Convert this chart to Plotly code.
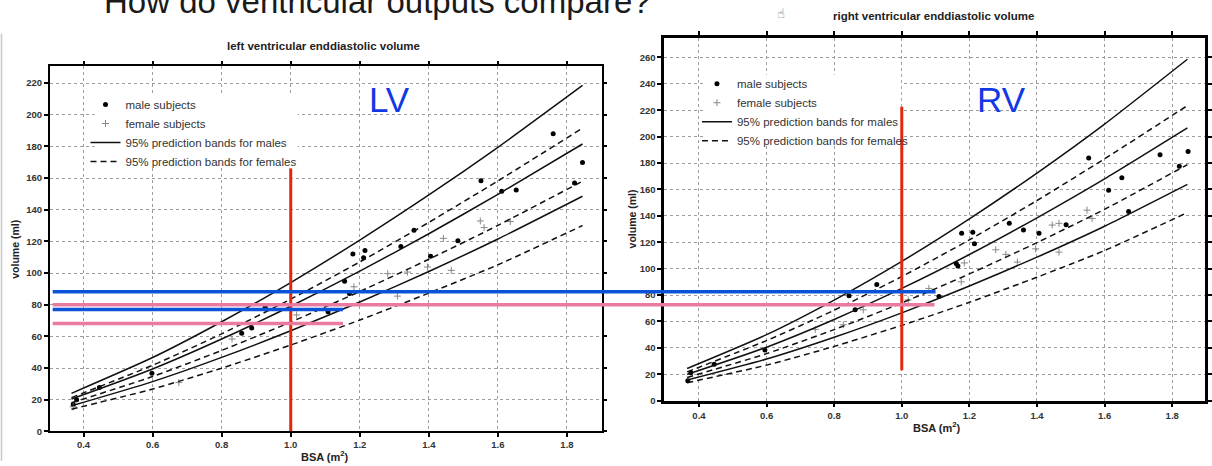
import plotly.graph_objects as go

# ---------------- data ----------------
bsa_line = [0.365, 0.6, 0.8, 1.0, 1.2, 1.4, 1.6, 1.845]

# Left ventricle prediction bands (ml)
lv_male_upper = [24.0, 46.6, 69.2, 94.0, 120.8, 149.3, 179.4, 218.5]
lv_male_mid = [20.4, 39.4, 58.3, 79.0, 101.2, 124.8, 149.7, 181.5]
lv_male_lower = [16.1, 31.4, 46.7, 63.5, 81.7, 101.0, 121.5, 148.5]
lv_fem_upper = [21.3, 41.7, 61.6, 83.5, 107.0, 132.0, 158.2, 191.5]
lv_fem_mid = [18.0, 34.6, 51.1, 69.0, 88.3, 108.7, 130.1, 158.0]
lv_fem_lower = [14.0, 26.7, 39.9, 54.5, 70.3, 87.3, 105.2, 130.0]

# Right ventricle prediction bands (ml)
rv_male_upper = [24.4, 50.0, 76.2, 105.5, 137.7, 172.4, 209.5, 258.6]
rv_male_mid = [19.9, 40.5, 61.5, 85.0, 110.7, 138.5, 168.0, 206.6]
rv_male_lower = [15.6, 31.5, 48.0, 66.5, 86.8, 108.7, 132.1, 163.8]
rv_fem_upper = [21.8, 45.5, 68.5, 94.0, 121.8, 151.6, 183.2, 223.5]
rv_fem_mid = [17.6, 35.6, 53.8, 74.0, 96.0, 119.7, 144.9, 178.8]
rv_fem_lower = [13.6, 26.9, 41.1, 57.0, 74.5, 93.5, 113.7, 142.5]

# subjects
lv_male_bsa = [0.37, 0.38, 0.446, 0.598, 0.858, 0.887, 0.926, 1.108, 1.156, 1.17, 1.18, 1.211,
               1.215, 1.319, 1.357, 1.405, 1.484, 1.551, 1.611, 1.653, 1.76, 1.822, 1.845]
lv_male_vol = [17.0, 20.0, 27.7, 36.7, 62.0, 65.2, 78.3, 75.6, 94.8, 87.1, 112.0, 109.6,
               114.2, 116.7, 127.0, 110.6, 120.4, 158.3, 151.7, 152.5, 187.9, 156.9, 169.8]
lv_fem_bsa = [0.37, 0.676, 0.83, 1.017, 1.183, 1.281, 1.309, 1.338, 1.396, 1.442, 1.465,
              1.549, 1.56, 1.636]
lv_fem_vol = [15.5, 30.8, 58.3, 73.5, 91.3, 99.6, 85.4, 100.6, 103.8, 121.9, 101.7,
              132.9, 128.7, 132.5]

rv_male_bsa = [0.367, 0.376, 0.445, 0.595, 0.844, 0.862, 0.926, 1.11, 1.161, 1.166, 1.177,
               1.21, 1.215, 1.318, 1.36, 1.406, 1.486, 1.553, 1.612, 1.651, 1.671, 1.764,
               1.821, 1.847]
rv_male_vol = [15.0, 21.2, 27.5, 38.3, 79.5, 68.8, 88.0, 78.8, 103.8, 102.0, 126.8,
               127.5, 118.8, 134.3, 129.3, 126.8, 133.3, 183.8, 159.3, 168.8, 143.3, 186.3,
               177.6, 188.8]
rv_fem_bsa = [0.744, 0.827, 0.886, 1.019, 1.08, 1.176, 1.185, 1.278, 1.308, 1.342, 1.396,
              1.445, 1.465, 1.465, 1.548, 1.563]
rv_fem_vol = [54.0, 57.5, 68.8, 76.3, 85.0, 90.0, 104.3, 114.3, 110.8, 105.0, 115.0,
              133.0, 134.3, 112.5, 144.3, 138.0]

x_ticks = [0.4, 0.6, 0.8, 1.0, 1.2, 1.4, 1.6, 1.8]
lv_y_ticks = list(range(0, 221, 20))
rv_y_ticks = list(range(0, 261, 20))

# slide overlay markings
marked_bsa = 1.0
lv_red_span = [0, 166]
rv_red_span = [23, 222.7]
lv_blue_levels = [88.1, 76.9]   # long, short
lv_pink_levels = [80.0, 68.1]   # long, short

W, H = 1212, 466
def X(px):
    return px / W
def Y(py):
    return 1 - py / H

FONT = "Liberation Sans, Arial, sans-serif"
DASH = "6px,4px"

fig = go.Figure()

def add_panel(xa, ya, legend, mb, mv, fb, fv, bands):
    fig.add_trace(go.Scatter(x=mb, y=mv, mode="markers", name="male subjects",
                             marker=dict(symbol="circle", size=5, color="black"),
                             xaxis=xa, yaxis=ya, legend=legend))
    fig.add_trace(go.Scatter(x=fb, y=fv, mode="markers", name="female subjects",
                             marker=dict(symbol="cross-thin", size=5, color="#888",
                                         line=dict(width=1, color="#888")),
                             xaxis=xa, yaxis=ya, legend=legend))
    names = ["95% prediction bands for males", "95% prediction bands for females"]
    for i, (vals, female) in enumerate(bands):
        first = i in (0, 3)
        fig.add_trace(go.Scatter(
            x=bsa_line, y=vals, mode="lines",
            name=names[1] if female else names[0],
            showlegend=first,
            line=dict(color="#111", width=1.5, dash=DASH if female else "solid",
                      shape="spline", smoothing=0.6),
            xaxis=xa, yaxis=ya, legend=legend))

add_panel("x", "y", "legend", lv_male_bsa, lv_male_vol, lv_fem_bsa, lv_fem_vol,
          [(lv_male_upper, False), (lv_male_mid, False), (lv_male_lower, False),
           (lv_fem_upper, True), (lv_fem_mid, True), (lv_fem_lower, True)])
add_panel("x2", "y2", "legend2", rv_male_bsa, rv_male_vol, rv_fem_bsa, rv_fem_vol,
          [(rv_male_upper, False), (rv_male_mid, False), (rv_male_lower, False),
           (rv_fem_upper, True), (rv_fem_mid, True), (rv_fem_lower, True)])

axis_common = dict(showline=True, linecolor="black", mirror="ticks", ticks="outside",
                   ticklen=4, tickcolor="black", showgrid=True, gridcolor="#9c9c9c",
                   griddash="dot", gridwidth=1, zeroline=False,
                   tickfont=dict(family=FONT, size=9.5, color="#333", weight="bold"))

fig.update_layout(
    width=W, height=H, autosize=False,
    margin=dict(l=0, r=0, t=0, b=0),
    paper_bgcolor="white", plot_bgcolor="white",
    font=dict(family=FONT, color="#333"),
    xaxis=dict(domain=[X(50), X(605)], range=[0.302, 1.9], tickvals=x_ticks,
               tickformat=".1f", anchor="y", linewidth=1.5, tickwidth=1.5, **axis_common),
    yaxis=dict(domain=[Y(436), Y(67)], range=[0, 230.6], tickvals=lv_y_ticks,
               anchor="x", linewidth=1.5, tickwidth=1.5, **axis_common),
    xaxis2=dict(domain=[X(668), 1.0], range=[0.297, 1.897], tickvals=x_ticks,
                tickformat=".1f", anchor="y2", linewidth=2.5, tickwidth=1.5, **axis_common),
    yaxis2=dict(domain=[Y(405), Y(38)], range=[0, 275], tickvals=rv_y_ticks,
                anchor="x2", linewidth=2.5, tickwidth=1.5, **axis_common),
    legend=dict(x=X(86), y=Y(91), xanchor="left", yanchor="top",
                bgcolor="rgba(255,255,255,0)", borderwidth=0,
                font=dict(family=FONT, size=11.5, color="#333")),
    legend2=dict(x=X(701), y=Y(70), xanchor="left", yanchor="top",
                 bgcolor="rgba(255,255,255,0)", borderwidth=0,
                 font=dict(family=FONT, size=11.5, color="#333")),
)

ann = []
def text(px, py, s, size, bold=True, angle=0, color="#222", xanchor="center",
         yanchor="middle", family=FONT):
    ann.append(dict(x=X(px), y=Y(py), xref="paper", yref="paper", text=s, showarrow=False,
                    textangle=angle, xanchor=xanchor, yanchor=yanchor,
                    font=dict(family=family, size=size, color=color,
                              weight="bold" if bold else "normal")))

text(325, 47, "left ventricular enddiastolic volume", 11.5)
text(939, 16, "right ventricular enddiastolic volume", 11.5)
text(15, 251.5, "volume (ml)", 10.5, angle=-90)
text(636, 221.5, "volume (ml)", 10.5, angle=-90)
text(327, 461, "BSA (m<sup>2</sup>)", 11)
text(942, 432, "BSA (m<sup>2</sup>)", 11)
text(392, 101, "LV", 35, bold=False, color="#1238e6")
text(1007, 101, "RV", 35, bold=False, color="#1238e6")
text(103, 22, "How do ventricular outputs compare?", 33, bold=False, color="#1a1a1a",
     xanchor="left", yanchor="bottom")
text(786, 14, "\u261D", 13, bold=False, color="#555", family="DejaVu Sans")
fig.update_layout(annotations=ann)

RED = "#e5250c"
BLUE = "#0b52d9"
PINK = "#ea7a9f"
shapes = [
    # white boxes hiding the grid behind the legends (above grid, below traces)
    dict(type="rect", xref="x", yref="y", x0=0.432, x1=1.02, y0=167.5, y1=212.5,
         fillcolor="white", line=dict(width=0), layer="between"),
    dict(type="rect", xref="x2", yref="y2", x0=0.421, x1=0.998, y0=193.5, y1=246.8,
         fillcolor="white", line=dict(width=0), layer="between"),
    dict(type="line", xref="x", yref="y", x0=marked_bsa, x1=marked_bsa,
         y0=lv_red_span[0], y1=lv_red_span[1], line=dict(color=RED, width=3)),
    dict(type="line", xref="x2", yref="y2", x0=marked_bsa, x1=marked_bsa,
         y0=rv_red_span[0], y1=rv_red_span[1], line=dict(color=RED, width=3)),
    dict(type="line", xref="paper", yref="y", x0=X(53), x1=X(941),
         y0=lv_blue_levels[0], y1=lv_blue_levels[0], line=dict(color=BLUE, width=3.5)),
    dict(type="line", xref="paper", yref="y", x0=X(53), x1=X(345),
         y0=lv_blue_levels[1], y1=lv_blue_levels[1], line=dict(color=BLUE, width=3.5)),
    dict(type="line", xref="paper", yref="y", x0=X(53), x1=X(940),
         y0=lv_pink_levels[0], y1=lv_pink_levels[0], line=dict(color=PINK, width=3.5)),
    dict(type="line", xref="paper", yref="y", x0=X(53), x1=X(345),
         y0=lv_pink_levels[1], y1=lv_pink_levels[1], line=dict(color=PINK, width=3.5)),
    dict(type="line", xref="paper", yref="paper", x0=X(1.5), x1=X(1.5), y0=0, y1=Y(34),
         line=dict(color="#c8c8c8", width=1.5), layer="below"),
]
fig.update_layout(shapes=shapes)

fig.write_html("out.html",
               config={"displayModeBar": False},
               post_script="document.body.style.margin='0px';"
                           "document.body.style.overflow='hidden';")
